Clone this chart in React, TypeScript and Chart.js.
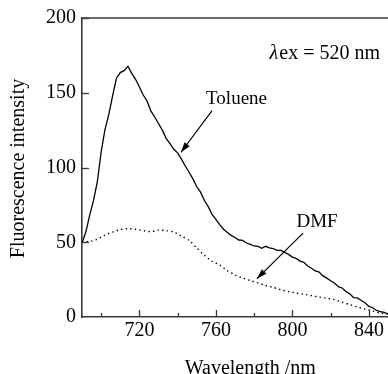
import React, { useEffect, useRef } from "react";
import { Chart, registerables } from "chart.js";

Chart.register(...registerables);

// ---- data ----
const tolueneWavelengths = [
  690, 692, 694, 696, 698, 700, 702, 704, 706, 708, 710, 712, 714, 716, 718, 720,
  722, 724, 726, 728, 730, 732, 734, 736, 738, 740, 742, 744, 746, 748, 750, 752,
  754, 756, 758, 760, 762, 764, 766, 768, 770, 772, 774, 776, 778, 780, 782, 784,
  786, 788, 790, 792, 794, 796, 798, 800, 802, 804, 806, 808, 810, 812, 814, 816,
  818, 820, 822, 824, 826, 828, 830, 832, 834, 836, 838, 840, 842, 844, 846, 848, 850,
];
const tolueneIntensity = [
  49.5, 56.8, 68.0, 77.9, 90.4, 110.2, 125.4, 135.3, 147.9, 159.7, 163.5, 164.8, 167.7, 163.0, 159.0, 153.8,
  148.5, 144.5, 137.9, 133.8, 129.4, 125.0, 119.5, 116.0, 112.2, 109.8, 105.6, 101.0, 96.8, 92.4, 87.1, 83.5,
  77.9, 73.8, 68.6, 65.3, 61.8, 58.7, 56.5, 54.6, 53.2, 51.5, 51.2, 49.5, 48.6, 47.5, 47.2, 46.0,
  47.3, 46.2, 45.8, 44.6, 44.5, 43.2, 41.9, 40.1, 39.2, 37.4, 36.6, 34.1, 32.6, 30.8, 30.0, 27.5,
  26.0, 24.2, 22.7, 20.3, 19.4, 17.0, 15.5, 13.0, 12.8, 11.0, 9.5, 7.1, 6.2, 4.4, 3.6, 3.1, 2.0,
];

const dmfWavelengths = [
  690, 694, 698, 702, 706, 710, 714, 718, 722, 726, 730, 734, 738, 742, 746, 750,
  754, 758, 762, 766, 770, 774, 778, 782, 786, 790, 794, 798, 802, 806, 810, 814,
  818, 822, 826, 830, 834, 838, 842, 846, 850,
];
const dmfIntensity = [
  50.2, 50.5, 52.1, 54.8, 56.8, 58.4, 59.1, 58.7, 57.8, 57.1, 58.1, 57.8, 56.8, 54.1, 51.2, 46.2,
  41.3, 37.3, 34.7, 31.0, 28.1, 26.1, 24.4, 22.8, 21.1, 19.8, 18.2, 17.0, 16.0, 15.2, 14.3, 13.3,
  12.5, 11.6, 9.9, 8.3, 6.6, 5.3, 4.0, 2.6, 2.0,
];

const xMin = 690;
const xMax = 850;
const xTickValues = [700, 720, 740, 760, 780, 800, 820, 840];
const xLabeledTicks = [720, 760, 800, 840];
const yMin = 0;
const yMax = 200;
const yTickValues = [0, 50, 100, 150, 200];

const xTitle = "Wavelength /nm";
const yTitle = "Fluorescence intensity";
const seriesNames = ["Toluene", "DMF"];
const excitationText = "ex = 520 nm";

// annotation anchors in data coordinates
const tolueneLabelAt = { x: 770.8, y: 142.6 };
const tolueneArrow = { from: { x: 758, y: 138 }, to: { x: 741.8, y: 110.2 } };
const dmfLabelAt = { x: 812.9, y: 60.1 };
const dmfArrow = { from: { x: 805.6, y: 56.1 }, to: { x: 781.5, y: 25.7 } };
const excitationAt = { x: 845.8, y: 172.9 };

const SERIF = '"Liberation Serif", "Times New Roman", serif';
const AXIS_COLOR = "#383838";

function drawArrow(ctx: CanvasRenderingContext2D, x1: number, y1: number, x2: number, y2: number) {
  ctx.beginPath();
  ctx.moveTo(x1, y1);
  ctx.lineTo(x2, y2);
  ctx.stroke();
  const ang = Math.atan2(y2 - y1, x2 - x1);
  const len = 10;
  const hw = 3.2;
  const bx = x2 - len * Math.cos(ang);
  const by = y2 - len * Math.sin(ang);
  ctx.beginPath();
  ctx.moveTo(x2, y2);
  ctx.lineTo(bx + hw * Math.sin(ang), by - hw * Math.cos(ang));
  ctx.lineTo(bx - hw * Math.sin(ang), by + hw * Math.cos(ang));
  ctx.closePath();
  ctx.fill();
}

const overlayPlugin = {
  id: "overlay",
  afterDraw(chart: any) {
    const { ctx, chartArea: a } = chart;
    const xs = chart.scales.x;
    const ys = chart.scales.y;
    const X = (v: number) => xs.getPixelForValue(v);
    const Y = (v: number) => ys.getPixelForValue(v);
    ctx.save();

    // top frame line
    ctx.strokeStyle = AXIS_COLOR;
    ctx.lineWidth = 1.6;
    ctx.beginPath();
    ctx.moveTo(a.left, a.top);
    ctx.lineTo(a.right, a.top);
    ctx.stroke();

    // inward tick marks
    ctx.lineWidth = 1.3;
    for (const v of xTickValues) {
      const px = Math.round(X(v)) + 0.5;
      const len = xLabeledTicks.includes(v) ? 7 : 4;
      ctx.beginPath();
      ctx.moveTo(px, a.bottom);
      ctx.lineTo(px, a.bottom - len);
      ctx.stroke();
    }
    for (const v of yTickValues) {
      if (v === yMin) continue;
      const py = Math.round(Y(v)) + 0.5;
      ctx.beginPath();
      ctx.moveTo(a.left, py);
      ctx.lineTo(a.left + 7, py);
      ctx.stroke();
    }

    // axis titles
    ctx.fillStyle = "#000";
    ctx.font = `20px ${SERIF}`;
    ctx.textAlign = "center";
    ctx.textBaseline = "alphabetic";
    ctx.fillText(xTitle, X(xMin) + (X(xMax) - X(xMin)) * 0.55, 374);
    ctx.save();
    ctx.translate(24, (a.top + a.bottom) / 2 + 1);
    ctx.rotate(-Math.PI / 2);
    ctx.fillText(yTitle, 0, 0);
    ctx.restore();

    // series labels
    ctx.font = `19px ${SERIF}`;
    ctx.fillText(seriesNames[0], X(tolueneLabelAt.x), Y(tolueneLabelAt.y));
    ctx.fillText(seriesNames[1], X(dmfLabelAt.x), Y(dmfLabelAt.y));

    // excitation note
    ctx.font = `20px ${SERIF}`;
    ctx.textAlign = "right";
    const rx = X(excitationAt.x);
    const by = Y(excitationAt.y);
    ctx.fillText(excitationText, rx, by);
    const w = ctx.measureText(excitationText).width;
    ctx.font = `italic 20px ${SERIF}`;
    ctx.fillText("λ", rx - w - 1, by);

    // arrows
    ctx.strokeStyle = "#000";
    ctx.fillStyle = "#000";
    ctx.lineWidth = 1.2;
    drawArrow(ctx, X(tolueneArrow.from.x), Y(tolueneArrow.from.y), X(tolueneArrow.to.x), Y(tolueneArrow.to.y));
    drawArrow(ctx, X(dmfArrow.from.x), Y(dmfArrow.from.y), X(dmfArrow.to.x), Y(dmfArrow.to.y));

    ctx.restore();
  },
};

export default function App() {
  const canvasRef = useRef<HTMLCanvasElement | null>(null);

  useEffect(() => {
    const canvas = canvasRef.current;
    if (!canvas) return;
    const chart = new Chart(canvas, {
      type: "line",
      data: {
        datasets: [
          {
            label: seriesNames[0],
            data: tolueneWavelengths.map((x, i) => ({ x, y: tolueneIntensity[i] })),
            borderColor: "#000",
            borderWidth: 1.3,
            pointRadius: 0,
            tension: 0,
            fill: false,
          },
          {
            label: seriesNames[1],
            data: dmfWavelengths.map((x, i) => ({ x, y: dmfIntensity[i] })),
            borderColor: "#000",
            borderWidth: 1.4,
            borderDash: [1.4, 3.2],
            pointRadius: 0,
            tension: 0.3,
            fill: false,
          },
        ],
      },
      options: {
        animation: false,
        responsive: false,
        devicePixelRatio: 1,
        layout: { padding: { top: 14, right: 0, left: 0, bottom: 0 } },
        plugins: {
          legend: { display: false },
          tooltip: { enabled: false },
        },
        scales: {
          x: {
            type: "linear",
            min: xMin,
            max: xMax,
            afterBuildTicks: (scale: any) => {
              scale.ticks = xTickValues.map((v) => ({ value: v }));
            },
            afterFit: (scale: any) => {
              scale.height = 57;
            },
            grid: { display: false, drawTicks: false },
            border: { display: true, color: AXIS_COLOR, width: 1.6 },
            ticks: {
              color: "#000",
              font: { family: SERIF, size: 20 },
              padding: 2,
              maxRotation: 0,
              autoSkip: false,
              callback: (v: any) => (xLabeledTicks.includes(Number(v)) ? String(v) : ""),
            },
          },
          y: {
            type: "linear",
            min: yMin,
            max: yMax,
            afterBuildTicks: (scale: any) => {
              scale.ticks = yTickValues.map((v) => ({ value: v }));
            },
            afterFit: (scale: any) => {
              scale.width = 82;
            },
            grid: { display: false, drawTicks: false },
            border: { display: true, color: AXIS_COLOR, width: 1.6 },
            ticks: {
              color: "#000",
              font: { family: SERIF, size: 20 },
              padding: 6,
              callback: (v: any) => String(v),
            },
          },
        },
      },
      plugins: [overlayPlugin],
    });
    return () => chart.destroy();
  }, []);

  return (
    <div style={{ position: "fixed", left: 0, top: 0, width: 388, height: 374, background: "#fff" }}>
      <canvas ref={canvasRef} width={388} height={374} style={{ display: "block", width: 388, height: 374 }} />
    </div>
  );
}
